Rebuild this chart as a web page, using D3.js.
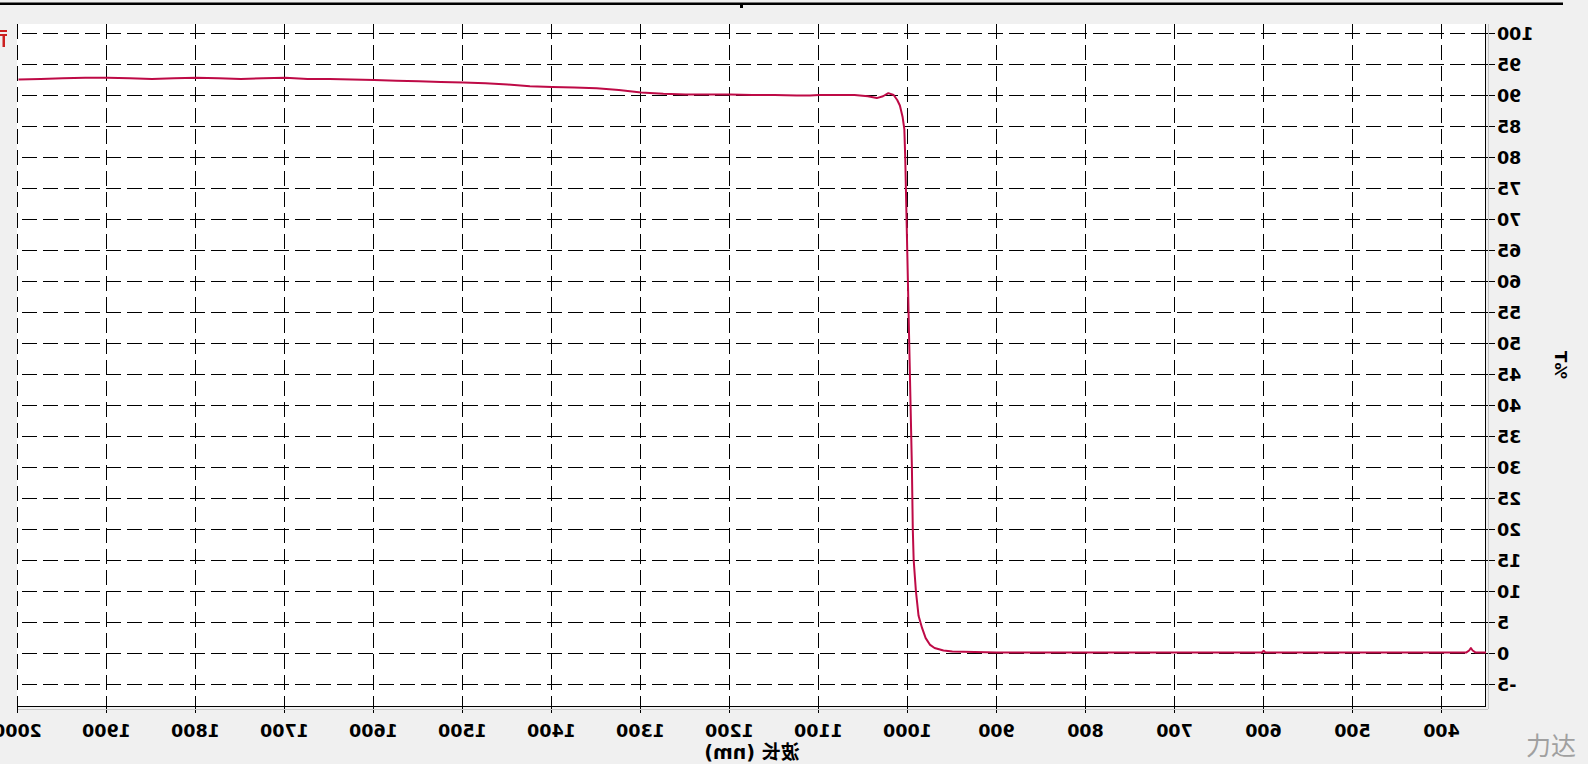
<!DOCTYPE html>
<html><head><meta charset="utf-8">
<script src="https://cdn.jsdelivr.net/npm/d3@7"></script>
<style>html,body{margin:0;padding:0;background:#f0f0f0;overflow:hidden}</style>
</head><body>
<svg id="c" width="1588" height="764"></svg>
<script>
// ---- data ----
const wavelengths = [2000,1975,1950,1925,1900,1875,1850,1825,1800,1775,1750,1725,1700,1675,1650,1625,1600,1575,1550,1525,1500,1475,1450,1425,1400,1375,1350,1325,1300,1275,1250,1225,1200,1175,1150,1125,1110,1100,1080,1060,1045,1035,1028,1022,1016,1012,1009,1006,1004,1003,1001.5,1000,998.5,997,995.5,994.5,993.5,991,988,984,980,975,970,960,950,925,900,850,800,750,700,650,602,600,598,550,500,450,400,372,369,367,365,362,350];
const transmittance = [92.5,92.6,92.7,92.8,92.8,92.7,92.6,92.7,92.8,92.7,92.6,92.7,92.8,92.6,92.6,92.5,92.4,92.3,92.2,92.1,92.0,91.9,91.7,91.4,91.3,91.2,91.1,90.8,90.4,90.2,90.1,90.1,90.1,90.0,90.0,89.9,89.9,90.0,90.0,90.0,89.8,89.5,89.8,90.3,90.0,89.2,88.3,86.5,84.5,80,70,60,50,40,30,20,15,10,6,4,2.4,1.3,0.8,0.4,0.25,0.15,0.1,0.1,0.1,0.1,0.1,0.1,0.1,0.35,0.1,0.1,0.1,0.1,0.1,0.1,0.4,0.8,0.4,0.1,0.1];
const xTicks = [400,500,600,700,800,900,1000,1100,1200,1300,1400,1500,1600,1700,1800,1900,2000];
const yTicks = [-5,0,5,10,15,20,25,30,35,40,45,50,55,60,65,70,75,80,85,90,95,100];
const xLabel = "波长 (nm)";
const yLabel = "%T";
const watermark = "力达";

const W = 1588, H = 764;
const plotL = 102, plotR = 1570, plotT = 24, plotB = 706;
const x = d3.scaleLinear().domain([350, 2000]).range([plotL, 1569.5]);
const y = d3.scaleLinear().domain([0, 100]).range([653, 33]);

const svg = d3.select("#c");
svg.append("rect").attr("width", W).attr("height", H).attr("fill", "#f0f0f0");

// whole chart is mirrored horizontally as in the reference
const g = svg.append("g").attr("transform", `translate(${W},0) scale(-1,1)`);

// top black bar and dot
g.append("rect").attr("x", 25).attr("y", 2.5).attr("width", W - 25).attr("height", 2.5).attr("fill", "#000");
g.append("rect").attr("x", 845).attr("y", 4).attr("width", 3).attr("height", 4).attr("fill", "#000");

// plot background
g.append("rect").attr("x", plotL).attr("y", plotT).attr("width", plotR - plotL + 1).attr("height", plotB - plotT).attr("fill", "#fff");

const font = "'DejaVu Sans','Noto Sans CJK SC',sans-serif";

// horizontal grid + y ticks
const yg = g.append("g");
yTicks.forEach(v => {
  const yy = Math.round(y(v)) + 0.5;
  yg.append("line").attr("x1", plotL).attr("x2", plotR).attr("y1", yy).attr("y2", yy)
    .attr("stroke", "#000").attr("stroke-width", 1).attr("stroke-dasharray", "15,6");
  yg.append("line").attr("x1", plotL - 9).attr("x2", plotL).attr("y1", yy).attr("y2", yy)
    .attr("stroke", "#000").attr("stroke-width", 1);
  yg.append("text").attr("x", plotL - 11).attr("y", yy).attr("text-anchor", "end")
    .attr("dominant-baseline", "central").attr("font-family", font).attr("font-weight", "bold")
    .attr("font-size", 17.5).attr("fill", "#000").text(v);
});

// vertical grid + x ticks
const xg = g.append("g");
xTicks.forEach(v => {
  const xx = Math.round(x(v)) + 0.5;
  xg.append("line").attr("x1", xx).attr("x2", xx).attr("y1", plotT).attr("y2", plotB)
    .attr("stroke", "#000").attr("stroke-width", 1).attr("stroke-dasharray", "15,6");
  xg.append("line").attr("x1", xx).attr("x2", xx).attr("y1", plotB).attr("y2", plotB + 7)
    .attr("stroke", "#000").attr("stroke-width", 1);
  xg.append("text").attr("x", xx).attr("y", 737).attr("text-anchor", "middle")
    .attr("font-family", font).attr("font-weight", "bold")
    .attr("font-size", 17.5).attr("fill", "#000").text(v);
});

// axis lines (with light 3D shadow)
g.append("line").attr("x1", plotL + 0.5).attr("x2", plotL + 0.5).attr("y1", plotT).attr("y2", plotB + 1)
  .attr("stroke", "#000");
g.append("line").attr("x1", plotL).attr("x2", plotR).attr("y1", plotB + 0.5).attr("y2", plotB + 0.5)
  .attr("stroke", "#000");
g.append("line").attr("x1", plotL - 2.5).attr("x2", plotL - 2.5).attr("y1", plotT).attr("y2", plotB + 3)
  .attr("stroke", "#c8c8c8");
g.append("line").attr("x1", plotL - 2).attr("x2", plotR).attr("y1", plotB + 3.5).attr("y2", plotB + 3.5)
  .attr("stroke", "#c8c8c8");

// data curve
const pts = wavelengths.map((w, i) => [w, transmittance[i]]);
const line = d3.line().x(d => x(d[0])).y(d => y(d[1])).curve(d3.curveLinear);
g.append("path").datum(pts).attr("d", line).attr("fill", "none")
  .attr("stroke", "#be0a46").attr("stroke-width", 2).attr("stroke-linejoin", "round");

// axis titles
g.append("text").attr("x", (plotL + plotR) / 2).attr("y", 759).attr("text-anchor", "middle")
  .attr("font-family", font).attr("font-weight", "bold").attr("font-size", 19).attr("fill", "#000").text(xLabel);
g.append("text").attr("transform", `translate(33,365) rotate(-90)`).attr("text-anchor", "middle")
  .attr("font-family", font).attr("font-weight", "bold").attr("font-size", 16.5).attr("fill", "#000").text(yLabel);

// cut-off red legend mark at the edge
g.append("rect").attr("x", W - 7).attr("y", 30).attr("width", 7).attr("height", 2).attr("fill", "#cc2020");
g.append("rect").attr("x", W - 7).attr("y", 34).attr("width", 7).attr("height", 2).attr("fill", "#cc2020");
g.append("rect").attr("x", W - 5).attr("y", 34).attr("width", 2.5).attr("height", 13).attr("fill", "#cc2020");

// watermark (not mirrored)
svg.append("text").attr("x", 1526).attr("y", 755).attr("font-family", "'Noto Sans CJK SC',sans-serif")
  .attr("font-size", 25).attr("fill", "#a0a0a0").text(watermark);
</script>
</body></html>
